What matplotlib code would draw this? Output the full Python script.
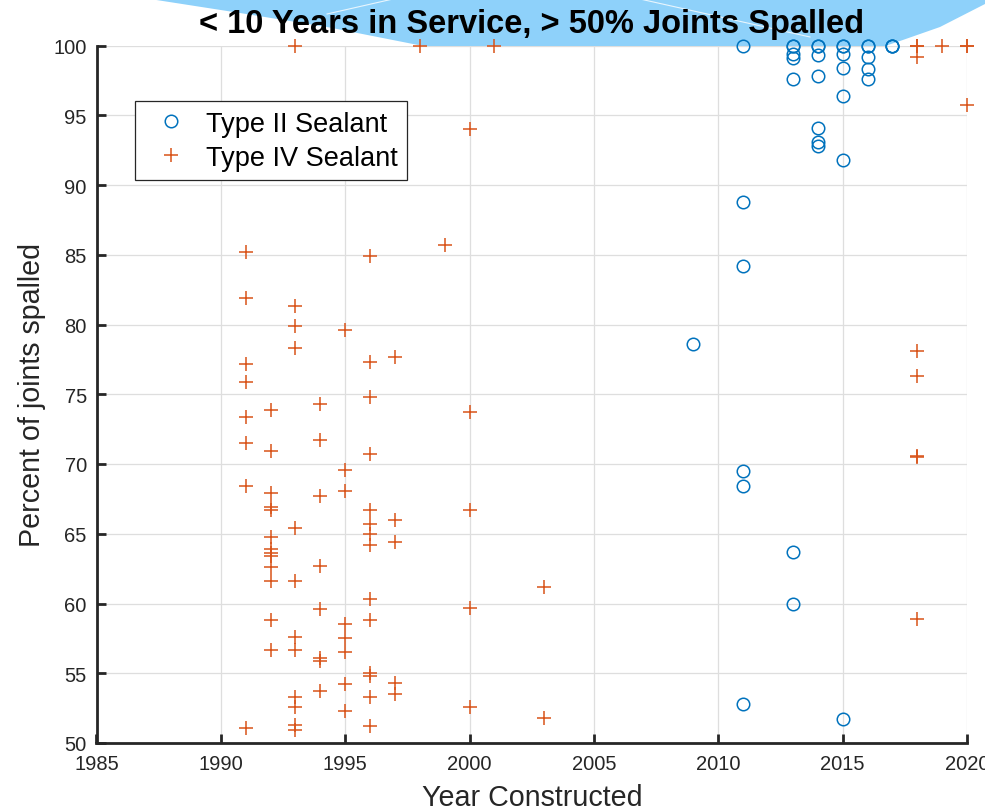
import matplotlib
matplotlib.use('Agg')
import matplotlib.pyplot as plt
from matplotlib.patches import Polygon, Rectangle
from matplotlib.lines import Line2D

# Type II sealant (circles)
type2_year = [2009] + [2011]*6 + [2013]*7 + [2014]*7 + [2015]*7 + [2016]*5 + [2017]*3
type2_pct = [78.6,
             100, 88.8, 84.2, 69.5, 68.4, 52.8,
             100, 100, 99.4, 99.1, 97.6, 63.7, 60.0,
             100, 100, 99.3, 97.8, 94.1, 93.1, 92.8,
             100, 100, 99.4, 98.4, 96.4, 91.8, 51.7,
             100, 100, 99.2, 98.3, 97.6,
             100, 100, 100]

# Type IV sealant (plus signs)
type4_year = ([1991]*8 + [1992]*13 + [1993]*12 + [1994]*8 + [1995]*8 + [1996]*14 +
              [1997]*5 + [1998] + [1999] + [2000]*5 + [2001] + [2003]*2 +
              [2018]*8 + [2019] + [2020]*3)
type4_pct = [85.2, 81.9, 77.2, 75.9, 73.4, 71.5, 68.4, 51.1,
             73.9, 70.9, 67.9, 66.9, 66.7, 64.8, 63.9, 63.6, 63.4, 62.6, 61.6, 58.8, 56.7,
             100, 81.3, 79.9, 78.3, 65.4, 61.6, 57.6, 56.7, 53.3, 52.6, 51.3, 50.9,
             74.3, 71.7, 67.7, 62.7, 59.6, 56.1, 55.9, 53.7,
             79.6, 69.6, 68.1, 58.5, 57.5, 56.5, 54.2, 52.3,
             84.9, 77.3, 74.8, 70.7, 66.7, 65.7, 65.0, 64.2, 60.3, 58.8, 55.0, 54.8, 53.3, 51.2,
             77.7, 66.0, 64.4, 54.3, 53.5,
             100,
             85.7,
             94.0, 73.7, 66.7, 59.7, 52.6,
             100,
             61.2, 51.8,
             100, 100, 99.2, 78.1, 76.3, 70.6, 70.5, 58.9,
             100,
             100, 100, 95.7]

x_ticks = [1985, 1990, 1995, 2000, 2005, 2010, 2015, 2020]
y_ticks = [50, 55, 60, 65, 70, 75, 80, 85, 90, 95, 100]

BLUE = '#0072BD'
ORANGE = '#D95319'
DARK = '#262626'

plt.rcParams['font.family'] = ['Liberation Sans', 'DejaVu Sans']

W, H = 998, 812
fig = plt.figure(figsize=(W/100, H/100), dpi=100)

def fpos(x, y):
    # pixel position -> figure fraction
    return (x / W, 1 - y / H)

# light blue blob behind the title
blob = [(150, 0), (240, 14), (327, 28), (413, 45), (450, 52), (870, 52),
        (900, 42), (940, 28), (985, 5), (985, 0)]
fig.add_artist(Polygon([fpos(*p) for p in blob], closed=True, transform=fig.transFigure,
                       facecolor='#8ed1fa', edgecolor='none', zorder=-1))
for (x0, y0), (x1, y1) in [((327, 15), (393, 0)), ((640, 0), (810, 38))]:
    a, b = fpos(x0, y0), fpos(x1, y1)
    fig.add_artist(Line2D([a[0], b[0]], [a[1], b[1]], transform=fig.transFigure,
                          color='white', lw=0.8, alpha=0.8, zorder=-0.5))

ax = fig.add_axes([96.5/W, 1 - 744/H, 870.5/W, 697.5/H])
ax.set_facecolor('white')

ax.plot(type2_year, type2_pct, 'o', mfc='none', mec=BLUE, ms=9, mew=1.1,
        ls='none', clip_on=False, label='Type II Sealant', zorder=3)
ax.plot(type4_year, type4_pct, '+', color=ORANGE, ms=10, mew=1.1,
        ls='none', clip_on=False, label='Type IV Sealant', zorder=3)

ax.set_xlim(1985, 2020)
ax.set_ylim(50, 100)
ax.set_xticks(x_ticks)
ax.set_yticks(y_ticks)
ax.grid(True, color='#dedede', lw=0.9)
ax.set_axisbelow(True)

for s in ['top', 'right']:
    ax.spines[s].set_visible(False)
for s in ['left', 'bottom']:
    ax.spines[s].set_color(DARK)
    ax.spines[s].set_linewidth(2)

ax.tick_params(direction='in', length=6.5, width=2, colors=DARK, labelsize=14.5)
ax.tick_params(axis='x', pad=8)
ax.tick_params(axis='y', pad=7)

ax.set_title('< 10 Years in Service, > 50% Joints Spalled', fontsize=23.5,
             fontweight='bold', pad=9.5)
ax.set_xlabel('Year Constructed', fontsize=20.6, color=DARK, labelpad=7)
ax.set_ylabel('Percent of joints spalled', fontsize=20.6, color=DARK, labelpad=5)

leg = ax.legend(loc='upper left', bbox_to_anchor=(0.044, 0.920), fontsize=19.5,
                fancybox=False, edgecolor=DARK, framealpha=1, borderaxespad=0,
                handlelength=1.95, handletextpad=0.32, borderpad=0.35, labelspacing=0.3)
leg.get_frame().set_linewidth(0.9)

# the reference is cut off on the right
fig.add_artist(Rectangle((985/W, 0), 13/W, 1, transform=fig.transFigure,
                         facecolor='white', edgecolor='none', zorder=10))

fig.savefig('out.png', dpi=100)
